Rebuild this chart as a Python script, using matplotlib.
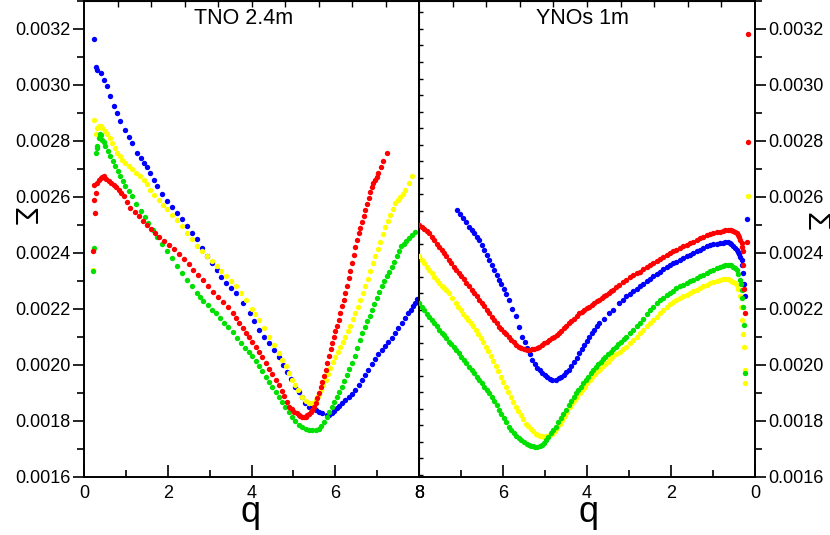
import numpy as np
import matplotlib
matplotlib.use('AGG')
from matplotlib import pyplot as plt
from matplotlib.ticker import FormatStrFormatter, MultipleLocator

plt.rcParams['font.family'] = ['Liberation Sans', 'DejaVu Sans']

# sigma values are in units of 1e-4

# ---- left panel: TNO 2.4m ----
tno_blue_q = [0.24, 0.28, 0.32, 0.40, 0.475, 0.55, 0.63, 0.71, 0.79, 0.87, 0.99, 1.07, 1.15, 1.27, 1.35, 1.43, 1.50,
              1.58, 1.66, 1.74, 1.86, 1.98, 2.10, 2.22, 2.33, 2.45, 2.57, 2.69, 2.81, 2.93, 3.05, 3.17, 3.28, 3.40,
              3.52, 3.64, 3.80, 3.96, 4.07, 4.18, 4.30, 4.42, 4.54, 4.66, 4.75, 4.85, 4.95, 5.05, 5.13, 5.20, 5.28,
              5.37, 5.45, 5.53, 5.61, 5.69, 5.80, 5.86, 5.92, 5.98, 6.04, 6.10, 6.16, 6.24, 6.32, 6.40, 6.48, 6.56,
              6.64, 6.72, 6.79, 6.87, 6.95, 7.03, 7.11, 7.19, 7.27, 7.35, 7.43, 7.51, 7.59, 7.67, 7.74, 7.80, 7.86,
              7.91, 7.96]
tno_blue_s = [31.65, 30.63, 30.55, 30.43, 30.19, 29.95, 29.60, 29.24, 29.00, 28.70, 28.40, 28.15, 27.93, 27.57, 27.40,
              27.21, 27.05, 26.86, 26.62, 26.38, 26.10, 25.85, 25.65, 25.43, 25.20, 24.95, 24.72, 24.48, 24.18, 23.88,
              23.65, 23.40, 23.15, 22.93, 22.75, 22.57, 22.20, 21.86, 21.55, 21.25, 21.00, 20.77, 20.52, 20.29, 20.00,
              19.75, 19.48, 19.22, 19.02, 18.85, 18.65, 18.50, 18.45, 18.40, 18.33, 18.27, 18.20, 18.22, 18.27, 18.35,
              18.45, 18.53, 18.62, 18.73, 18.85, 18.97, 19.10, 19.27, 19.45, 19.63, 19.82, 20.01, 20.20, 20.37, 20.53,
              20.66, 20.80, 20.96, 21.13, 21.32, 21.50, 21.68, 21.85, 21.97, 22.10, 22.22, 22.35]

tno_yellow_q = [0.22, 0.24, 0.28, 0.32, 0.36, 0.40, 0.44, 0.50, 0.55, 0.61, 0.67, 0.73, 0.79, 0.85, 0.91, 0.99, 1.07,
                1.15, 1.23, 1.33, 1.43, 1.50, 1.58, 1.68, 1.78, 1.88, 1.98, 2.10, 2.22, 2.33, 2.45, 2.57, 2.69, 2.81,
                2.93, 3.05, 3.17, 3.28, 3.40, 3.52, 3.64, 3.76, 3.88, 4.00, 4.09, 4.18, 4.30, 4.42, 4.54, 4.66, 4.74,
                4.82, 4.90, 4.97, 5.04, 5.10, 5.20, 5.30, 5.37, 5.45, 5.53, 5.59, 5.65, 5.71, 5.77, 5.83, 5.88, 5.94,
                6.00, 6.06, 6.12, 6.18, 6.24, 6.30, 6.36, 6.42, 6.48, 6.54, 6.60, 6.66, 6.72, 6.78, 6.84, 6.90, 6.95,
                7.01, 7.07, 7.13, 7.19, 7.25, 7.31, 7.37, 7.43, 7.49, 7.55, 7.61, 7.67, 7.75, 7.83]
tno_yellow_s = [23.40, 28.76, 28.23, 28.45, 28.52, 28.55, 28.46, 28.35, 28.23, 28.10, 27.93, 27.75, 27.57, 27.45, 27.33,
                27.20, 27.10, 26.98, 26.86, 26.75, 26.62, 26.45, 26.26, 26.08, 25.90, 25.72, 25.55, 25.37, 25.19, 24.95,
                24.71, 24.48, 24.24, 24.06, 23.88, 23.70, 23.52, 23.35, 23.17, 23.00, 22.81, 22.57, 22.33, 22.00, 21.80,
                21.60, 21.30, 21.00, 20.70, 20.41, 20.18, 19.95, 19.70, 19.46, 19.28, 19.10, 18.86, 18.70, 18.62, 18.65,
                18.74, 18.90, 19.10, 19.28, 19.46, 19.68, 19.90, 20.10, 20.29, 20.47, 20.65, 20.82, 21.00, 21.20, 21.40,
                21.62, 21.84, 22.07, 22.30, 22.55, 22.80, 23.08, 23.35, 23.62, 23.87, 24.14, 24.40, 24.67, 24.94, 25.15,
                25.35, 25.57, 25.78, 25.90, 26.00, 26.12, 26.25, 26.50, 26.73]

tno_green_q = [0.22, 0.24, 0.28, 0.30, 0.32, 0.35, 0.38, 0.41, 0.44, 0.48, 0.51, 0.57, 0.63, 0.69, 0.75, 0.81, 0.87,
               0.93, 0.99, 1.07, 1.15, 1.25, 1.35, 1.45, 1.54, 1.64, 1.74, 1.86, 1.98, 2.10, 2.22, 2.33, 2.45, 2.57,
               2.69, 2.76, 2.85, 2.95, 3.05, 3.15, 3.25, 3.35, 3.45, 3.55, 3.65, 3.75, 3.85, 3.95, 4.02, 4.10, 4.18,
               4.26, 4.34, 4.42, 4.50, 4.58, 4.66, 4.73, 4.81, 4.89, 4.97, 5.05, 5.13, 5.21, 5.29, 5.37, 5.45, 5.53,
               5.60, 5.67, 5.73, 5.80, 5.86, 5.92, 5.98, 6.04, 6.10, 6.16, 6.22, 6.28, 6.34, 6.40, 6.46, 6.52, 6.58,
               6.64, 6.70, 6.76, 6.82, 6.87, 6.93, 6.99, 7.05, 7.11, 7.17, 7.23, 7.29, 7.35, 7.41, 7.47, 7.52, 7.58,
               7.64, 7.70, 7.76, 7.83, 7.90]
tno_green_s = [23.35, 24.18, 27.57, 27.75, 27.81, 28.10, 28.23, 28.20, 28.05, 27.95, 27.81, 27.63, 27.45, 27.28, 27.10,
               26.92, 26.74, 26.56, 26.38, 26.20, 26.02, 25.75, 25.49, 25.28, 25.07, 24.80, 24.55, 24.30, 24.05, 23.80,
               23.52, 23.28, 23.03, 22.80, 22.58, 22.42, 22.28, 22.12, 21.97, 21.84, 21.68, 21.50, 21.34, 21.16, 20.97,
               20.78, 20.60, 20.44, 20.30, 20.12, 19.95, 19.76, 19.58, 19.40, 19.22, 19.03, 18.85, 18.68, 18.50, 18.32,
               18.15, 17.98, 17.85, 17.76, 17.70, 17.66, 17.67, 17.68, 17.72, 17.80, 17.95, 18.12, 18.30, 18.50, 18.68,
               18.86, 19.04, 19.22, 19.43, 19.64, 19.85, 20.06, 20.32, 20.60, 20.87, 21.13, 21.35, 21.55, 21.76, 21.96,
               22.17, 22.38, 22.59, 22.80, 22.98, 23.16, 23.33, 23.51, 23.69, 23.87, 24.05, 24.23, 24.33, 24.43, 24.53,
               24.64, 24.76]

tno_red_q = [0.22, 0.26, 0.24, 0.28, 0.24, 0.32, 0.36, 0.40, 0.44, 0.475, 0.53, 0.59, 0.65, 0.71, 0.77, 0.83, 0.89,
             0.95, 1.03, 1.11, 1.21, 1.31, 1.40, 1.50, 1.60, 1.70, 1.80, 1.90, 2.02, 2.14, 2.26, 2.38, 2.50, 2.61, 2.73,
             2.85, 2.97, 3.09, 3.21, 3.33, 3.45, 3.55, 3.63, 3.71, 3.79, 3.87, 3.95, 4.02, 4.10, 4.18, 4.26, 4.34, 4.42,
             4.50, 4.58, 4.66, 4.72, 4.78, 4.84, 4.90, 4.96, 5.02, 5.08, 5.13, 5.17, 5.21, 5.25, 5.29, 5.33, 5.37, 5.41,
             5.45, 5.49, 5.53, 5.57, 5.61, 5.65, 5.69, 5.73, 5.77, 5.81, 5.85, 5.89, 5.92, 5.96, 6.00, 6.04, 6.08, 6.12,
             6.16, 6.20, 6.24, 6.28, 6.32, 6.36, 6.40, 6.44, 6.48, 6.52, 6.56, 6.60, 6.64, 6.68, 6.72, 6.76, 6.80, 6.84,
             6.87, 6.91, 6.95, 6.99, 7.03, 7.09, 7.15, 7.23]
tno_red_s = [24.06, 25.43, 25.90, 26.14, 26.44, 26.50, 26.60, 26.68, 26.72, 26.74, 26.65, 26.56, 26.50, 26.44, 26.35,
             26.26, 26.15, 26.02, 25.80, 25.61, 25.45, 25.31, 25.15, 25.01, 24.86, 24.71, 24.56, 24.42, 24.27, 24.12,
             23.95, 23.78, 23.60, 23.40, 23.20, 23.02, 22.82, 22.60, 22.42, 22.25, 22.05, 21.85, 21.68, 21.50, 21.32,
             21.15, 20.98, 20.82, 20.64, 20.45, 20.26, 20.06, 19.86, 19.66, 19.46, 19.27, 19.08, 18.88, 18.68, 18.50,
             18.42, 18.33, 18.27, 18.21, 18.17, 18.15, 18.14, 18.15, 18.20, 18.25, 18.32, 18.39, 18.50, 18.65, 18.80,
             18.98, 19.20, 19.40, 19.60, 19.82, 20.05, 20.30, 20.55, 20.77, 20.98, 21.20, 21.40, 21.60, 21.85, 22.10,
             22.33, 22.56, 22.83, 23.10, 23.36, 23.63, 23.92, 24.20, 24.45, 24.71, 24.90, 25.10, 25.32, 25.54, 25.75,
             25.95, 26.16, 26.37, 26.48, 26.60, 26.72, 26.85, 27.05, 27.27, 27.57]

# ---- right panel: YNOs 1m (q axis runs 8 -> 0) ----
yno_blue_q = [7.09, 7.02, 6.95, 6.88, 6.81, 6.75, 6.69, 6.63, 6.57, 6.51, 6.45, 6.39, 6.33, 6.27, 6.21, 6.15, 6.10,
              6.04, 5.98, 5.92, 5.86, 5.78, 5.70, 5.62, 5.54, 5.48, 5.42, 5.36, 5.30, 5.24, 5.18, 5.12, 5.06, 5.00,
              4.95, 4.89, 4.83, 4.75, 4.67, 4.61, 4.55, 4.49, 4.43, 4.37, 4.31, 4.25, 4.19, 4.13, 4.07, 4.01, 3.95,
              3.89, 3.83, 3.77, 3.71, 3.60, 3.48, 3.37, 3.24, 3.15, 3.06, 2.98, 2.90, 2.82, 2.74, 2.66, 2.58, 2.50,
              2.42, 2.34, 2.26, 2.18, 2.10, 2.02, 1.95, 1.87, 1.79, 1.71, 1.63, 1.55, 1.47, 1.39, 1.31, 1.23, 1.15,
              1.07, 0.99, 0.91, 0.83, 0.77, 0.71, 0.65, 0.60, 0.56, 0.52, 0.48, 0.44, 0.41, 0.38, 0.35, 0.32, 0.30,
              0.28, 0.26, 0.24, 0.20]
yno_blue_s = [25.54, 25.40, 25.25, 25.10, 24.94, 24.82, 24.70, 24.58, 24.47, 24.28, 24.10, 23.93, 23.76, 23.58, 23.40,
              23.22, 23.04, 22.87, 22.70, 22.52, 22.33, 22.00, 21.73, 21.35, 21.00, 20.80, 20.60, 20.38, 20.18, 20.04,
              19.90, 19.80, 19.70, 19.62, 19.55, 19.50, 19.46, 19.45, 19.52, 19.58, 19.65, 19.73, 19.82, 19.95, 20.10,
              20.25, 20.41, 20.55, 20.70, 20.85, 21.00, 21.12, 21.25, 21.37, 21.49, 21.65, 21.84, 21.96, 22.20, 22.32,
              22.44, 22.53, 22.62, 22.71, 22.80, 22.89, 22.98, 23.07, 23.16, 23.24, 23.33, 23.42, 23.51, 23.57, 23.63,
              23.69, 23.75, 23.81, 23.87, 23.93, 23.99, 24.05, 24.11, 24.17, 24.23, 24.27, 24.30, 24.33, 24.35, 24.36,
              24.37, 24.37, 24.35, 24.30, 24.25, 24.18, 24.11, 24.03, 23.95, 23.86, 23.76, 23.55, 23.28, 22.90, 22.44,
              25.20]

yno_red_q = [8.00, 7.94, 7.88, 7.82, 7.76, 7.70, 7.64, 7.58, 7.52, 7.46, 7.41, 7.35, 7.29, 7.23, 7.17, 7.11, 7.05,
             6.99, 6.93, 6.87, 6.81, 6.75, 6.69, 6.63, 6.57, 6.51, 6.45, 6.39, 6.33, 6.27, 6.21, 6.15, 6.10, 6.04, 5.98,
             5.92, 5.86, 5.80, 5.74, 5.68, 5.62, 5.56, 5.50, 5.44, 5.38, 5.32, 5.26, 5.20, 5.14, 5.08, 5.02, 4.96, 4.90,
             4.84, 4.78, 4.72, 4.67, 4.61, 4.55, 4.49, 4.43, 4.37, 4.31, 4.25, 4.19, 4.13, 4.07, 4.01, 3.95, 3.89, 3.83,
             3.77, 3.71, 3.65, 3.60, 3.54, 3.48, 3.42, 3.37, 3.30, 3.24, 3.15, 3.06, 2.98, 2.90, 2.82, 2.74, 2.66, 2.58,
             2.50, 2.42, 2.34, 2.26, 2.18, 2.10, 2.02, 1.95, 1.87, 1.79, 1.71, 1.63, 1.55, 1.47, 1.39, 1.31, 1.23, 1.15,
             1.07, 0.99, 0.91, 0.83, 0.77, 0.71, 0.65, 0.60, 0.56, 0.52, 0.48, 0.44, 0.41, 0.38, 0.35, 0.32, 0.30, 0.28,
             0.28, 0.26, 0.24, 0.20, 0.17, 0.16]
yno_red_s = [24.99, 24.92, 24.85, 24.78, 24.70, 24.58, 24.45, 24.33, 24.22, 24.11, 24.00, 23.88, 23.76, 23.63, 23.50,
             23.39, 23.28, 23.16, 23.05, 22.92, 22.80, 22.67, 22.55, 22.44, 22.33, 22.22, 22.10, 21.97, 21.84, 21.72,
             21.60, 21.48, 21.36, 21.27, 21.18, 21.09, 21.00, 20.90, 20.80, 20.72, 20.65, 20.60, 20.55, 20.54, 20.53,
             20.55, 20.58, 20.61, 20.65, 20.71, 20.77, 20.83, 20.89, 20.94, 21.00, 21.06, 21.13, 21.21, 21.30, 21.40,
             21.49, 21.57, 21.65, 21.75, 21.84, 21.90, 21.95, 22.02, 22.08, 22.14, 22.20, 22.27, 22.33, 22.39, 22.45,
             22.51, 22.56, 22.62, 22.68, 22.77, 22.85, 22.95, 23.04, 23.12, 23.20, 23.27, 23.33, 23.41, 23.48, 23.56,
             23.63, 23.71, 23.78, 23.86, 23.93, 23.99, 24.05, 24.11, 24.17, 24.23, 24.28, 24.34, 24.40, 24.46, 24.52,
             24.58, 24.64, 24.67, 24.70, 24.73, 24.76, 24.78, 24.80, 24.81, 24.82, 24.81, 24.78, 24.74, 24.70, 24.63,
             24.55, 24.45, 24.35, 24.20, 24.05, 23.57, 22.70, 21.84, 24.40, 27.95, 31.83]

yno_green_q = [8.00, 7.94, 7.88, 7.82, 7.76, 7.70, 7.64, 7.58, 7.52, 7.46, 7.41, 7.35, 7.29, 7.23, 7.17, 7.11, 7.05,
               6.99, 6.93, 6.87, 6.81, 6.75, 6.69, 6.63, 6.57, 6.51, 6.45, 6.39, 6.33, 6.27, 6.21, 6.15, 6.10, 6.04,
               5.98, 5.92, 5.86, 5.80, 5.74, 5.68, 5.62, 5.56, 5.50, 5.44, 5.38, 5.33, 5.28, 5.23, 5.18, 5.13, 5.08,
               5.03, 4.98, 4.92, 4.86, 4.80, 4.74, 4.68, 4.62, 4.56, 4.50, 4.44, 4.38, 4.32, 4.27, 4.21, 4.15, 4.09,
               4.03, 3.97, 3.91, 3.85, 3.79, 3.73, 3.67, 3.61, 3.56, 3.50, 3.44, 3.38, 3.32, 3.26, 3.20, 3.13, 3.06,
               2.98, 2.90, 2.82, 2.74, 2.66, 2.58, 2.50, 2.42, 2.34, 2.26, 2.18, 2.10, 2.02, 1.95, 1.87, 1.79, 1.71,
               1.63, 1.55, 1.47, 1.39, 1.31, 1.23, 1.15, 1.07, 0.99, 0.91, 0.83, 0.77, 0.71, 0.65, 0.60, 0.56, 0.52,
               0.48, 0.44, 0.40, 0.36, 0.34, 0.32, 0.30, 0.28, 0.26, 0.24]
yno_green_s = [22.20, 22.07, 21.95, 21.83, 21.72, 21.61, 21.50, 21.37, 21.25, 21.15, 21.05, 20.94, 20.83, 20.73, 20.62,
               20.52, 20.41, 20.29, 20.17, 20.05, 19.93, 19.81, 19.70, 19.58, 19.46, 19.34, 19.22, 19.10, 18.98, 18.84,
               18.70, 18.55, 18.39, 18.25, 18.10, 17.95, 17.79, 17.67, 17.55, 17.46, 17.37, 17.30, 17.23, 17.18, 17.13,
               17.10, 17.08, 17.07, 17.07, 17.10, 17.15, 17.22, 17.31, 17.43, 17.55, 17.67, 17.79, 17.95, 18.10, 18.25,
               18.39, 18.55, 18.70, 18.84, 18.98, 19.10, 19.22, 19.34, 19.46, 19.58, 19.70, 19.82, 19.93, 20.02, 20.10,
               20.20, 20.29, 20.38, 20.47, 20.56, 20.65, 20.74, 20.82, 20.91, 21.00, 21.12, 21.25, 21.37, 21.49, 21.65,
               21.80, 21.94, 22.08, 22.19, 22.30, 22.40, 22.50, 22.58, 22.65, 22.73, 22.80, 22.86, 22.92, 22.98, 23.04,
               23.10, 23.16, 23.22, 23.28, 23.34, 23.40, 23.46, 23.51, 23.53, 23.55, 23.56, 23.57, 23.55, 23.50, 23.45,
               23.39, 23.25, 23.04, 22.88, 22.68, 22.40, 22.08, 21.43, 19.70]

yno_yellow_q = [8.00, 7.94, 7.88, 7.82, 7.76, 7.70, 7.64, 7.58, 7.52, 7.46, 7.41, 7.35, 7.29, 7.21, 7.13, 7.07, 7.01,
                6.95, 6.89, 6.83, 6.77, 6.71, 6.65, 6.59, 6.53, 6.47, 6.41, 6.35, 6.29, 6.23, 6.17, 6.11, 6.05, 5.99,
                5.94, 5.88, 5.82, 5.76, 5.70, 5.64, 5.58, 5.52, 5.46, 5.40, 5.34, 5.28, 5.22, 5.17, 5.12, 5.07, 5.02,
                4.97, 4.92, 4.87, 4.83, 4.77, 4.71, 4.65, 4.59, 4.53, 4.47, 4.41, 4.35, 4.29, 4.23, 4.17, 4.11, 4.05,
                3.99, 3.93, 3.87, 3.81, 3.75, 3.69, 3.63, 3.57, 3.51, 3.45, 3.40, 3.31, 3.22, 3.14, 3.06, 2.98, 2.90,
                2.82, 2.74, 2.66, 2.58, 2.50, 2.42, 2.34, 2.26, 2.18, 2.10, 2.02, 1.95, 1.87, 1.79, 1.71, 1.63, 1.55,
                1.47, 1.39, 1.31, 1.23, 1.15, 1.07, 0.99, 0.91, 0.83, 0.77, 0.71, 0.65, 0.60, 0.56, 0.52, 0.48, 0.44,
                0.40, 0.36, 0.33, 0.30, 0.28, 0.26, 0.23, 0.24, 0.17]
yno_yellow_s = [23.87, 23.75, 23.62, 23.50, 23.39, 23.27, 23.15, 23.03, 22.92, 22.83, 22.75, 22.66, 22.56, 22.38, 22.20,
                22.08, 21.95, 21.83, 21.72, 21.61, 21.50, 21.38, 21.25, 21.10, 20.95, 20.80, 20.65, 20.48, 20.30, 20.12,
                19.94, 19.76, 19.58, 19.40, 19.22, 19.04, 18.86, 18.68, 18.50, 18.35, 18.20, 18.05, 17.90, 17.80, 17.70,
                17.62, 17.54, 17.50, 17.46, 17.44, 17.43, 17.44, 17.46, 17.50, 17.54, 17.65, 17.75, 17.89, 18.03, 18.18,
                18.33, 18.48, 18.62, 18.74, 18.86, 18.98, 19.10, 19.22, 19.34, 19.46, 19.58, 19.67, 19.76, 19.85, 19.94,
                20.02, 20.10, 20.20, 20.29, 20.37, 20.45, 20.55, 20.65, 20.78, 20.90, 21.01, 21.13, 21.25, 21.37, 21.49,
                21.60, 21.72, 21.85, 21.97, 22.08, 22.16, 22.23, 22.31, 22.38, 22.44, 22.50, 22.56, 22.62, 22.68, 22.74,
                22.80, 22.86, 22.91, 22.95, 23.00, 23.04, 23.05, 23.05, 23.05, 23.04, 23.01, 22.97, 22.92, 22.86, 22.70,
                22.44, 22.05, 21.60, 21.10, 20.65, 19.82, 19.36, 26.02]

colors = {'blue': '#0000ff', 'yellow': '#ffff00', 'green': '#00e000', 'red': '#ff0000'}

left_series = [('blue', tno_blue_q, tno_blue_s), ('yellow', tno_yellow_q, tno_yellow_s),
               ('green', tno_green_q, tno_green_s), ('red', tno_red_q, tno_red_s)]
right_series = [('blue', yno_blue_q, yno_blue_s), ('yellow', yno_yellow_q, yno_yellow_s),
                ('green', yno_green_q, yno_green_s), ('red', yno_red_q, yno_red_s)]

fig = plt.figure(figsize=(8.3, 5.35), dpi=100)
axl = fig.add_axes([84 / 830, 58.3 / 535, 335 / 830, 475.7 / 535])
axr = fig.add_axes([419 / 830, 58.3 / 535, 336 / 830, 475.7 / 535])

for ax, series in ((axl, left_series), (axr, right_series)):
    for name, q, s in series:
        ax.scatter(q, np.array(s) * 1e-4, s=15, color=colors[name], linewidths=0, zorder=3)
    ax.set_ylim(0.0016, 0.0033)
    ax.xaxis.set_major_locator(MultipleLocator(2))
    ax.xaxis.set_minor_locator(MultipleLocator(1))
    ax.yaxis.set_major_locator(MultipleLocator(0.0002))
    ax.yaxis.set_minor_locator(MultipleLocator(0.0001))
    ax.yaxis.set_major_formatter(FormatStrFormatter('%.4f'))
    for sp in ax.spines.values():
        sp.set_linewidth(1.4)
    ax.tick_params(axis='x', which='major', direction='in', length=9, width=1.2, labelsize=13, pad=6)
    ax.tick_params(axis='x', which='minor', direction='in', length=5, width=1.2)
    ax.tick_params(axis='y', which='major', direction='out', length=8, width=1.2, labelsize=13, pad=1.5)
    ax.tick_params(axis='y', which='minor', direction='out', length=5, width=1.2)
    top = ax.secondary_xaxis('top')
    top.set_xticks(np.arange(0.8, 7.3, 0.8))
    top.tick_params(direction='in', length=4, width=1.0, labeltop=False)
    top.set_xticklabels([])

axl.set_xlim(0, 8)
axr.set_xlim(8, 0)
axr.yaxis.tick_right()

# short ticks along the shared divider
div = axr.secondary_yaxis('left')
div.set_yticks(np.arange(0.001607, 0.0033, 0.0000590))
div.set_yticklabels([])
div.tick_params(direction='in', length=3, width=1.0)

axl.text(0.476, 0.985, 'TNO 2.4m', transform=axl.transAxes, ha='center', va='top', fontsize=15.5)
axr.text(0.487, 0.985, 'YNOs 1m', transform=axr.transAxes, ha='center', va='top', fontsize=15.5)

fig.text(250 / 830, 1 - 522 / 535, 'q', ha='center', va='baseline', fontsize=26)
fig.text(588 / 830, 1 - 522 / 535, 'q', ha='center', va='baseline', fontsize=26)
fig.text(21 / 830, 1 - 216 / 535, 'Σ', ha='center', va='center', rotation=270, fontsize=22)
fig.text(814 / 830, 1 - 221 / 535, 'Σ', ha='center', va='center', rotation=270, fontsize=22)

plt.savefig('out.png', dpi=100)
